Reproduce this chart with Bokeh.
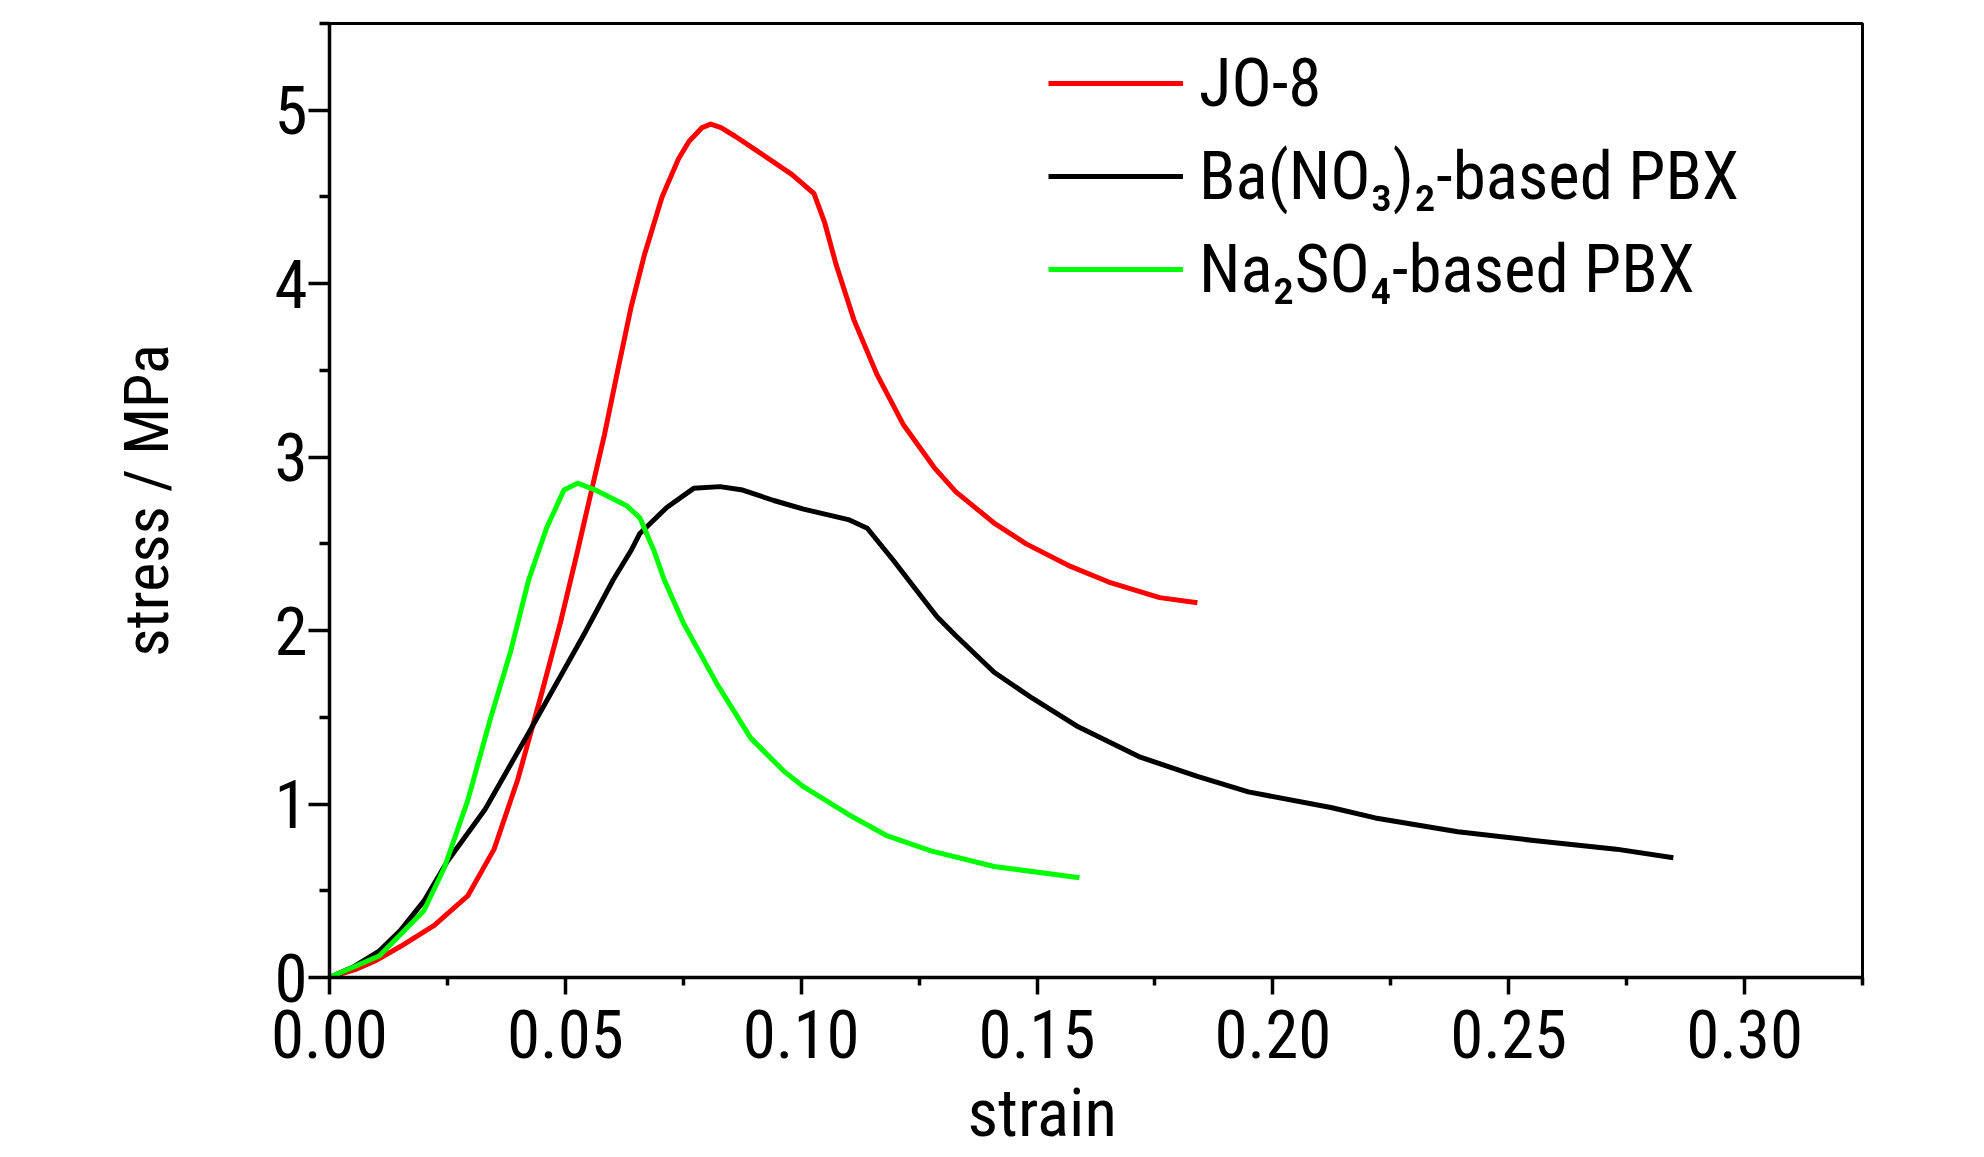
from bokeh.plotting import figure
from bokeh.models import Range1d, FixedTicker, PrintfTickFormatter, Legend, LegendItem, Title
from bokeh.embed import file_html
from bokeh.resources import INLINE

# ---- data ----
jo8_x = [0, 0.0059, 0.0100, 0.0151, 0.0222, 0.0293, 0.0349, 0.0399, 0.0448, 0.0490, 0.0526,
         0.0554, 0.0583, 0.0611, 0.0639, 0.0668, 0.0705, 0.0740, 0.0762, 0.0790, 0.0808, 0.0830,
         0.0860, 0.0904, 0.0980, 0.1027, 0.1050, 0.1074, 0.1112, 0.1160, 0.1216, 0.1282, 0.1328,
         0.1409, 0.1477, 0.1571, 0.1652, 0.1760, 0.1840]
jo8_y = [0, 0.05, 0.10, 0.18, 0.30, 0.47, 0.74, 1.14, 1.62, 2.05, 2.46,
         2.79, 3.13, 3.50, 3.86, 4.17, 4.50, 4.72, 4.82, 4.90, 4.92, 4.90,
         4.85, 4.77, 4.63, 4.52, 4.35, 4.11, 3.79, 3.48, 3.19, 2.94, 2.80,
         2.62, 2.50, 2.37, 2.28, 2.19, 2.16]

ba_x = [0, 0.0050, 0.0106, 0.0150, 0.0200, 0.0250, 0.0330, 0.0420, 0.0540, 0.0601, 0.0639,
        0.0658, 0.0715, 0.0772, 0.0828, 0.0876, 0.0942, 0.1005, 0.1100, 0.1140, 0.1194, 0.1248,
        0.1288, 0.1328, 0.1409, 0.1490, 0.1584, 0.1719, 0.1840, 0.1948, 0.2123, 0.2217, 0.2392,
        0.2553, 0.2728, 0.2849]
ba_y = [0, 0.06, 0.154, 0.27, 0.44, 0.67, 0.97, 1.40, 1.98, 2.29, 2.46,
        2.56, 2.71, 2.82, 2.83, 2.81, 2.75, 2.70, 2.64, 2.59, 2.41, 2.22,
        2.08, 1.97, 1.76, 1.61, 1.45, 1.27, 1.16, 1.07, 0.98, 0.92, 0.84,
        0.79, 0.74, 0.69]

na_x = [0, 0.0106, 0.0151, 0.0200, 0.0243, 0.0293, 0.0342, 0.0384, 0.0422, 0.0460, 0.0497,
        0.0526, 0.0564, 0.0630, 0.0658, 0.0688, 0.0710, 0.0751, 0.0822, 0.0893, 0.0963, 0.1005,
        0.1100, 0.1180, 0.1275, 0.1409, 0.1590]
na_y = [0, 0.125, 0.25, 0.385, 0.63, 1.02, 1.50, 1.88, 2.29, 2.59, 2.81,
        2.85, 2.81, 2.72, 2.65, 2.46, 2.29, 2.04, 1.69, 1.38, 1.19, 1.10,
        0.94, 0.82, 0.73, 0.64, 0.575]

series_names = ["JO-8", "Ba(NO\u2083)\u2082-based PBX", "Na\u2082SO\u2084-based PBX"]
series_colors = ["#ff0000", "#000000", "#00ff00"]

x_ticks = [0.00, 0.05, 0.10, 0.15, 0.20, 0.25, 0.30]
x_minor = [0.025, 0.075, 0.125, 0.175, 0.225, 0.275, 0.325]
y_ticks = [0, 1, 2, 3, 4, 5]
y_minor = [0.5, 1.5, 2.5, 3.5, 4.5, 5.5]

FONT = "'Roboto Condensed', 'DejaVu Sans Condensed', sans-serif"
FS = "67px"

p = figure(frame_width=1533, frame_height=954, output_backend="svg", toolbar_location=None,
           x_range=Range1d(0, 0.325), y_range=Range1d(0, 5.5),
           min_border_left=329, min_border_right=100, min_border_top=23, min_border_bottom=180)

p.background_fill_color = "white"
p.border_fill_color = "white"
p.outline_line_color = "black"
p.outline_line_width = 3
p.xgrid.visible = False
p.ygrid.visible = False

r1 = p.line(jo8_x, jo8_y, line_color=series_colors[0], line_width=5, line_join="round")
r2 = p.line(ba_x, ba_y, line_color=series_colors[1], line_width=5, line_join="round")
r3 = p.line(na_x, na_y, line_color=series_colors[2], line_width=5, line_join="round")

for ax in (p.xaxis[0], p.yaxis[0]):
    ax.axis_line_width = 3.5
    ax.major_tick_line_width = 3.5
    ax.minor_tick_line_width = 3.5
    ax.major_tick_in = 0
    ax.minor_tick_in = 0
    ax.major_label_text_font = FONT
    ax.major_label_text_font_size = FS
    ax.major_label_text_color = "black"
    ax.axis_label_text_font_style = "normal"
    ax.axis_label_text_color = "black"

p.xaxis.ticker = FixedTicker(ticks=x_ticks, minor_ticks=x_minor)
p.xaxis.formatter = PrintfTickFormatter(format="%.2f")
p.xaxis.major_tick_out = 17
p.xaxis.minor_tick_out = 8
p.xaxis.major_label_standoff = 15

p.yaxis.ticker = FixedTicker(ticks=y_ticks, minor_ticks=y_minor)
p.yaxis.major_tick_out = 21
p.yaxis.minor_tick_out = 10
p.yaxis.major_label_standoff = 1
p.yaxis.axis_label = "stress / MPa"
p.yaxis.axis_label_text_font = FONT
p.yaxis.axis_label_text_font_size = "62px"
p.yaxis.axis_label_standoff = 88

xlabel = Title(text="strain", align="left", offset=638, standoff=22,
               text_font=FONT, text_font_size=FS, text_font_style="normal",
               text_color="black")
p.add_layout(xlabel, "below")

legend = Legend(items=[LegendItem(label=series_names[0], renderers=[r1]),
                       LegendItem(label=series_names[1], renderers=[r2]),
                       LegendItem(label=series_names[2], renderers=[r3])],
                location=(719, 667))
legend.border_line_color = None
legend.background_fill_alpha = 0
legend.padding = 0
legend.margin = 0
legend.glyph_width = 135
legend.glyph_height = 82
legend.label_height = 82
legend.spacing = 11
legend.label_standoff = 16
legend.label_text_font = FONT
legend.label_text_font_size = FS
legend.label_text_color = "black"
legend.label_text_baseline = "middle"
p.add_layout(legend, "center")

open("out.html", "w").write(file_html(p, INLINE))
